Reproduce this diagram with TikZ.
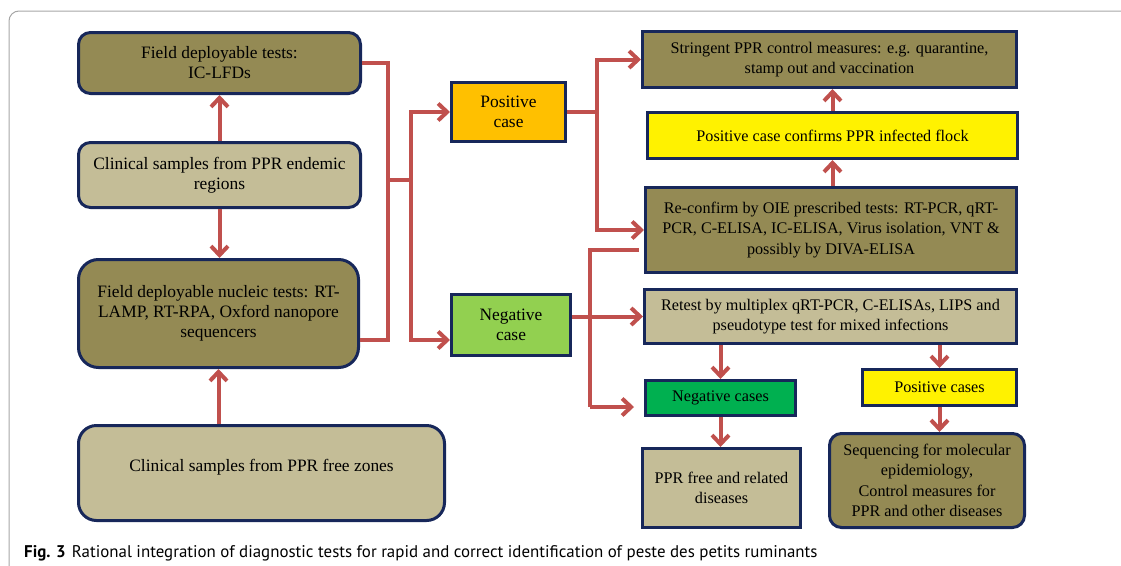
\documentclass[tikz,border=0pt]{standalone}
\usepackage{fontspec}
\setmainfont{Liberation Serif}
\newfontfamily\capfont{PT Sans}
\usetikzlibrary{arrows.meta, positioning}
\definecolor{olivefill}{HTML}{948A54}
\definecolor{tanfill}{HTML}{C4BD97}
\definecolor{navyline}{HTML}{17275A}
\definecolor{redline}{HTML}{C0504D}
\definecolor{posorange}{HTML}{FFC000}
\definecolor{neggreen}{HTML}{92D050}
\definecolor{deepgreen}{HTML}{00B050}
\definecolor{framegray}{HTML}{A6A6A6}
\tikzset{
    box/.style={draw=navyline, line width=3pt, align=center, inner sep=2pt,
        font=\fontsize{16.2}{20.5}\selectfont},
    bigtext/.style={font=\fontsize{17.4}{20}\selectfont},
    darkbox/.style={box, fill=olivefill},
    lightbox/.style={box, fill=tanfill},
    link/.style={draw=redline, line width=4pt},
    arr/.style={link, -{Straight Barb[length=9pt,width=17pt]}},
}
\begin{document}
\begin{tikzpicture}[x=1pt, y=-1pt]
    \useasboundingbox (0,0) rectangle (1121,565);
    \draw[framegray, line width=1pt, rounded corners=10pt] (9,600) |- (1160,11);
    % left column
    \node[darkbox, bigtext, rounded corners=12pt, minimum width=282pt, minimum height=61pt] (ic) at (219.5,63) {Field deployable tests:\\IC-LFDs};
    \node[lightbox, bigtext, rounded corners=12pt, minimum width=282pt, minimum height=65pt] (endemic) at (219.5,175) {Clinical samples from PPR endemic\\regions};
    \node[darkbox, bigtext, rounded corners=20pt, minimum width=280pt, minimum height=108pt] (nucleic) at (218.5,313.5) {Field deployable nucleic tests: RT-\\LAMP, RT-RPA, Oxford nanopore\\sequencers};
    \node[lightbox, bigtext, rounded corners=18pt, minimum width=366pt, minimum height=95pt, text depth=16pt] (free) at (261.5,473) {Clinical samples from PPR free zones};
    % cases
    \node[box, bigtext, fill=posorange, minimum width=114pt, minimum height=59pt] (pos) at (508.5,112) {Positive\\case};
    \node[box, bigtext, fill=neggreen, minimum width=119pt, minimum height=61pt] (neg) at (511,325) {Negative\\case};
    % right column
    \node[darkbox, minimum width=374pt, minimum height=56pt] (stringent) at (829.5,59.5) {Stringent PPR control measures: e.g. quarantine,\\stamp out and vaccination};
    \node[box, fill=yellow, minimum width=370pt, minimum height=46pt] (confirm) at (832.5,135.5) {Positive case confirms PPR infected flock};
    \node[darkbox, minimum width=371pt, minimum height=85pt] (reconfirm) at (831,230) {Re-confirm by OIE prescribed tests: RT-PCR, qRT-\\PCR, C-ELISA, IC-ELISA, Virus isolation, VNT \&\\possibly by DIVA-ELISA};
    \node[lightbox, minimum width=372pt, minimum height=54pt] (retest) at (830.5,316.5) {Retest by multiplex qRT-PCR, C-ELISAs, LIPS and\\pseudotype test for mixed infections};
    \node[box, fill=deepgreen, minimum width=150pt, minimum height=35pt] (negs) at (720.5,398) {Negative cases};
    \node[box, fill=yellow, minimum width=154pt, minimum height=36pt] (poss) at (939.5,387.5) {Positive cases};
    \node[lightbox, minimum width=158pt, minimum height=79pt] (pprfree) at (721.5,488) {PPR free and related\\diseases};
    \node[darkbox, rounded corners=12pt, minimum width=195pt, minimum height=94pt] (seq) at (927,480.5) {Sequencing for molecular\\epidemiology,\\Control measures for\\PPR and other diseases};
    % left arrows
    \draw[arr] (endemic.north) -- (ic.south);
    \draw[arr] (endemic.south) -- (endemic.south |- nucleic.north);
    \draw[arr] (free.north -| nucleic.south) -- (nucleic.south);
    % branch to the cases
    \coordinate (bus) at (388,180);
    \coordinate (split) at (411,180);
    \draw[link] (ic.east) -| (bus) |- ([yshift=-26pt]nucleic.east);
    \draw[link] (bus) -- (split);
    \draw[arr] (split) |- (pos.west);
    \draw[arr] (split) |- ([yshift=-15pt]neg.west);
    % positive branch
    \coordinate (psplit) at (597,112);
    \draw[link] (pos.east) -- (psplit);
    \draw[arr] (psplit) |- (stringent.west);
    \draw[arr] (psplit) |- (reconfirm.west);
    \draw[arr] (reconfirm.north -| confirm.south) -- (confirm.south);
    \draw[arr] (confirm.north) -- (confirm.north |- stringent.south);
    % negative branch
    \coordinate (ntop) at (590,250);
    \coordinate (nbot) at (590,407);
    \draw[link, shorten >=5pt] (nbot) -- (ntop) -- (reconfirm.west |- ntop);
    \draw[arr] (neg.east |- retest.west) -- (retest.west);
    \draw[arr, shorten >=10pt] (nbot) -- (negs.west |- nbot);
    \draw[arr] (retest.south -| negs.north) -- (negs.north);
    \draw[arr] (retest.south -| poss.north) -- (poss.north);
    \draw[arr] (negs.south) -- (negs.south |- pprfree.north);
    \draw[arr] (poss.south) -- (poss.south |- seq.north);
    % caption
    \node[anchor=base west, inner sep=0pt, font=\capfont\fontsize{16.9}{20}\selectfont] (caption) at (24,557) {\textbf{Fig. 3}\hspace{6pt}Rational integration of diagnostic tests for rapid and correct identification of peste des petits ruminants};
\end{tikzpicture}
\end{document}
